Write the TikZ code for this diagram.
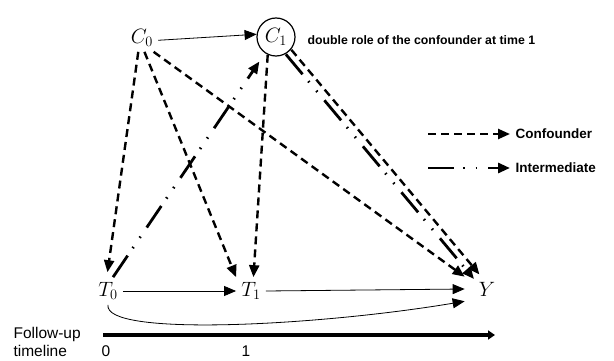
\documentclass[tikz,border=0pt]{standalone}
\usepackage{fontspec}
\newfontfamily\arialfont{Liberation Sans}
\usetikzlibrary{arrows.meta,positioning}

\tikzset{
  var/.style={inner sep=5pt, font=\fontsize{20}{22}\selectfont},
  head/.style={-{Triangle[length=12pt,width=10pt]}},
  effect/.style={head, line width=0.8pt},
  confound/.style={head, line width=2.4pt, dash pattern=on 8pt off 5pt},
  interm/.style={head, line width=2.8pt,
    dash pattern=on 26pt off 9pt on 1.5pt off 11pt on 1.5pt off 11pt},
  note/.style={font=\arialfont\bfseries\fontsize{12.3}{14}\selectfont},
  legtext/.style={font=\arialfont\bfseries\fontsize{13.5}{15}\selectfont},
  axis/.style={font=\arialfont\fontsize{15.5}{17}\selectfont}
}

\begin{document}
\begin{tikzpicture}[x=1pt,y=-1pt]
  \useasboundingbox (0,0) rectangle (614,361);

  % --- variables ---
  \node[var] (c0) at (142,38) {$C_0$};
  \node[var, draw, circle, line width=1.2pt, minimum size=38pt, inner sep=0pt]
    (c1) at (276,37) {$C_1$};
  \node[var] (t0) at (108,291) {$T_0$};
  \node[var] (t1) at (251,291) {$T_1$};
  \node[var, inner xsep=14pt] (y) at (487,289) {$Y$};
  \node[note, anchor=west] (role) at (304,40) {double role of the confounder at time 1};

  % --- direct effects ---
  \draw[effect] (c0.-8) -- (c1.172);
  \draw[effect] (t0.east) -- (t1.west);
  \draw[effect] (t1.east) -- (y.west);
  \draw[effect] (t0.south) .. controls +(-5,32) and +(-150,25) .. (y.south west);

  % --- confounding paths ---
  \draw[confound, shorten >=5pt] (c0.-105) -- (t0.95);
  \draw[confound] (c0.-80) -- (t1.north west);
  \draw[confound] (c0.-50) -- (y.north west);
  \draw[confound] (c1.245) -- (t1.80);
  \draw[confound, transform canvas={shift={(2.7pt,2.3pt)}}] (c1) -- (y);

  % --- intermediate paths ---
  \draw[interm, shorten >=10pt] (t0.70) -- (c1);
  \draw[interm, transform canvas={shift={(-2.7pt,-2.3pt)}}] (c1) -- (y);

  % --- legend ---
  \foreach \yy/\sty/\txt in {134/confound/Confounder, 168/interm/Intermediate} {
    \coordinate (\sty-a) at (428,\yy);
    \coordinate (\sty-b) at (510,\yy);
    \draw[\sty] (\sty-a) -- (\sty-b);
    \node[legtext, anchor=west] (\sty-l) at (512,\yy) {\txt};
  }

  % --- follow-up timeline ---
  \coordinate (tl-a) at (103,335);
  \coordinate (tl-b) at (495,335);
  \draw[line width=4.5pt, -{Triangle[length=7pt,width=9pt]}] (tl-a) -- (tl-b);
  \node[axis, anchor=west] (fu) at (10,334) {Follow-up};
  \node[axis, anchor=west] (tl) at (10,351) {timeline};
  \node[axis] (tick0) at (106,351) {0};
  \node[axis] (tick1) at (246,351) {1};
\end{tikzpicture}
\end{document}
